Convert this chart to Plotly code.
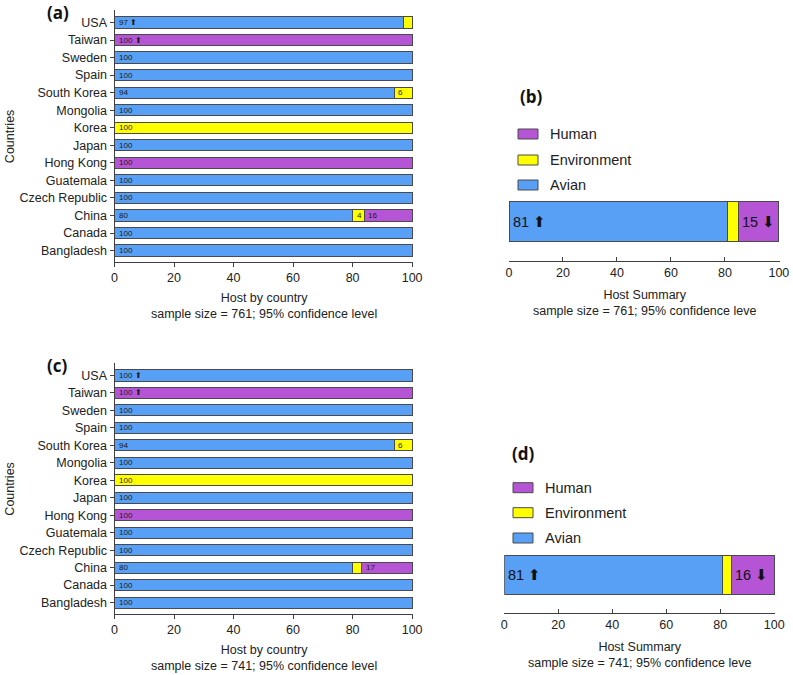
import plotly.graph_objects as go

W, H = 793, 675

countries = ["USA", "Taiwan", "Sweden", "Spain", "South Korea", "Mongolia", "Korea",
             "Japan", "Hong Kong", "Guatemala", "Czech Republic", "China", "Canada", "Bangladesh"]
hosts = ["Avian", "Environment", "Human"]

avian_a = [97, 0, 100, 100, 94, 100, 0, 100, 0, 100, 100, 80, 100, 100]
env_a = [3, 0, 0, 0, 6, 0, 100, 0, 0, 0, 0, 4, 0, 0]
human_a = [0, 100, 0, 0, 0, 0, 0, 0, 100, 0, 0, 16, 0, 0]
arrow_a = ["⬆", "⬆", "", "", "", "", "", "", "", "", "", "", "", ""]

avian_c = [100, 0, 100, 100, 94, 100, 0, 100, 0, 100, 100, 80, 100, 100]
env_c = [0, 0, 0, 0, 6, 0, 100, 0, 0, 0, 0, 3, 0, 0]
human_c = [0, 100, 0, 0, 0, 0, 0, 0, 100, 0, 0, 17, 0, 0]
arrow_c = ["⬆", "⬆", "", "", "", "", "", "", "", "", "", "", "", ""]

summary_b = [81, 4, 15]
summary_b_arrows = ["⬆", "", "⬇"]
summary_d = [81, 3, 16]
summary_d_arrows = ["⬆", "", "⬇"]

sample_ac = [761, 741]

colors = {"Avian": "#57A0F5", "Environment": "#FFFF00", "Human": "#B654D6"}
EDGE = "#4a4a4a"
AX = "#404040"
FONT = "Liberation Sans, Arial, sans-serif"


def px(x):
    return x / W


def py(y):
    return 1 - y / H


fig = go.Figure()
annotations = []
shapes = []


def nz(v):
    return [x if x else None for x in v]


def country_panel(idx, av, en, hu, arrows, top, bottom, xl, xr, n, tag):
    xa = "x" if idx == 1 else f"x{idx}"
    ya = "y" if idx == 1 else f"y{idx}"
    for name, vals in zip(hosts, [av, en, hu]):
        fig.add_trace(go.Bar(
            y=countries, x=nz(vals), orientation="h", name=name, xaxis=xa, yaxis=ya,
            marker=dict(color=colors[name], line=dict(color=EDGE, width=1)),
            width=0.64, showlegend=False, hoverinfo="x+y+name"))
    for i, c in enumerate(countries):
        start = 0
        first = True
        for j, vals in enumerate([av, en, hu]):
            v = vals[i]
            if v >= 4:
                txt = str(v)
                if first and arrows[i]:
                    txt += " " + arrows[i]
                annotations.append(dict(
                    x=start, y=c, xref=xa, yref=ya, text=txt, showarrow=False,
                    xanchor="left", yanchor="middle", xshift=2,
                    font=dict(size=8, color="#1a1a1a", family=FONT)))
                first = False
            start += v
    layout_x = dict(domain=[px(xl), px(xr)], range=[0, 100.3], anchor=ya,
                    showline=True, linecolor=AX, linewidth=1, ticks="outside",
                    ticklen=4, tickcolor=AX, tickvals=[0, 20, 40, 60, 80, 100],
                    showgrid=False, zeroline=False, automargin=False,
                    tickfont=dict(size=12.5, color="#222", family=FONT))
    layout_y = dict(domain=[py(bottom), py(top)], anchor=xa, type="category",
                    categoryorder="array", categoryarray=countries[::-1],
                    range=[-0.67, 13.71], showline=True, linecolor=AX, linewidth=1,
                    ticks="outside", ticklen=4, tickcolor=AX, showgrid=False,
                    zeroline=False, automargin=False,
                    tickfont=dict(size=12.5, color="#222", family=FONT))
    fig.update_layout(**{("xaxis" if idx == 1 else f"xaxis{idx}"): layout_x,
                         ("yaxis" if idx == 1 else f"yaxis{idx}"): layout_y})
    annotations.append(dict(
        x=px((xl + xr) / 2), y=py(bottom + 27), xref="paper", yref="paper",
        text=f"Host by country<br>sample size = {n}; 95% confidence level",
        showarrow=False, xanchor="center", yanchor="top", align="center",
        font=dict(size=12.5, color="#222", family=FONT)))
    annotations.append(dict(
        x=px(10), y=py((top + bottom) / 2), xref="paper", yref="paper",
        text="Countries", textangle=-90, showarrow=False,
        xanchor="center", yanchor="middle",
        font=dict(size=12.5, color="#222", family=FONT)))
    annotations.append(dict(
        x=px(58), y=py(top + 2), xref="paper", yref="paper", text=f"<b>{tag}</b>",
        showarrow=False, xanchor="center", yanchor="middle",
        font=dict(size=17, color="#111", family="Open Sans, sans-serif")))


def summary_panel(idx, vals, arrows, xl, xr, axis_y, yr, n, tag, leg_ys, sw_x, tag_pos):
    xa = f"x{idx}"
    ya = f"y{idx}"
    for name, v in zip(hosts, vals):
        fig.add_trace(go.Bar(
            y=[0], x=[v], orientation="h", name=name, xaxis=xa, yaxis=ya,
            marker=dict(color=colors[name], line=dict(color=EDGE, width=1)),
            width=1, showlegend=False, hoverinfo="x+name"))
    start = 0
    for v, a in zip(vals, arrows):
        if a:
            annotations.append(dict(
                x=start, y=0, xref=xa, yref=ya, text=f"{v} {a}", showarrow=False,
                xanchor="left", yanchor="middle", xshift=2,
                font=dict(size=14.5, color="#111", family=FONT)))
        start += v
    top = axis_y - 69.6
    fig.update_layout(**{
        f"xaxis{idx}": dict(domain=[px(xl), px(xr)], range=[0, 100.3], anchor=ya,
                            showline=True, linecolor=AX, linewidth=1, ticks="inside",
                            ticklen=4, tickcolor=AX, tickvals=[0, 20, 40, 60, 80, 100],
                            showgrid=False, zeroline=False, automargin=False,
                            tickfont=dict(size=12.5, color="#222", family=FONT)),
        f"yaxis{idx}": dict(domain=[py(axis_y), py(top)], anchor=xa, range=yr,
                            visible=False, showgrid=False, zeroline=False, automargin=False),
    })
    annotations.append(dict(
        x=px((xl + xr) / 2), y=py(axis_y + 25), xref="paper", yref="paper",
        text=f"Host Summary<br>sample size = {n}; 95% confidence leve",
        showarrow=False, xanchor="center", yanchor="top", align="center",
        font=dict(size=12.5, color="#222", family=FONT)))
    for name, ly in zip(["Human", "Environment", "Avian"], leg_ys):
        shapes.append(dict(type="rect", xref="paper", yref="paper",
                           x0=px(sw_x), x1=px(sw_x + 20), y0=py(ly + 5), y1=py(ly - 5),
                           fillcolor=colors[name], line=dict(color=EDGE, width=1)))
        annotations.append(dict(
            x=px(sw_x + 30), y=py(ly), xref="paper", yref="paper", text=name,
            showarrow=False, xanchor="left", yanchor="middle",
            font=dict(size=14.5, color="#222", family=FONT)))
    annotations.append(dict(
        x=px(tag_pos[0]), y=py(tag_pos[1]), xref="paper", yref="paper", text=f"<b>{tag}</b>",
        showarrow=False, xanchor="center", yanchor="middle",
        font=dict(size=17, color="#111", family="Open Sans, sans-serif")))


country_panel(1, avian_a, env_a, human_a, arrow_a, 10, 262.3, 114.5, 413, sample_ac[0], "(a)")
summary_panel(2, summary_b, summary_b_arrows, 509, 779.7, 261.3, [-0.99, 0.75], 761, "(b)",
              [134, 160, 185], 518, (531, 97))
country_panel(3, avian_c, env_c, human_c, arrow_c, 363, 614.3, 114.5, 413, sample_ac[1], "(c)")
summary_panel(4, summary_d, summary_d_arrows, 504.3, 775, 613.3, [-0.98, 0.79], 741, "(d)",
              [487.7, 512.7, 538], 513, (523, 453))

fig.update_layout(
    template="none",
    width=W, height=H, margin=dict(l=0, r=0, t=0, b=0, autoexpand=False),
    barmode="stack", bargap=0.36,
    plot_bgcolor="white", paper_bgcolor="white",
    annotations=annotations, shapes=shapes,
    font=dict(family=FONT, color="#222"),
)

fig.write_html("out.html", config={"displayModeBar": False},
               post_script="document.body.style.margin='0';document.body.style.overflow='hidden';")
